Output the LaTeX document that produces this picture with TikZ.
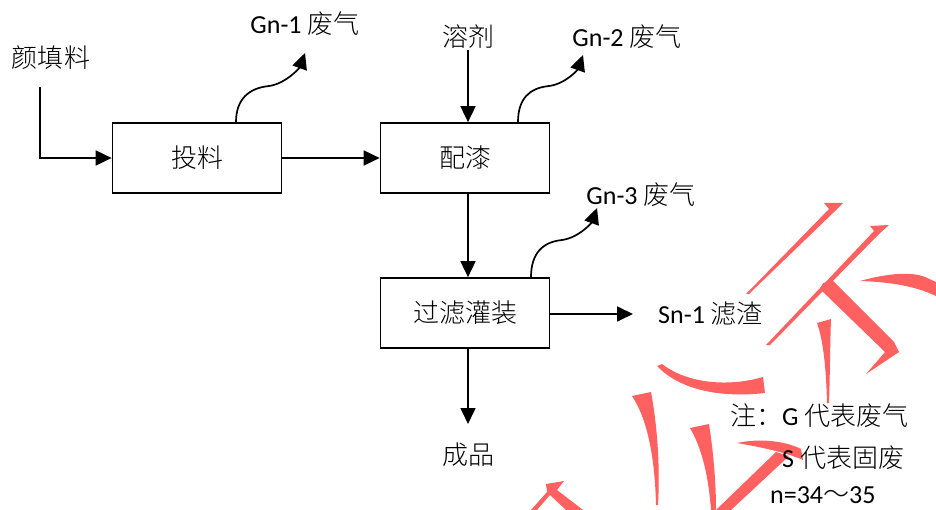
\documentclass[tikz,border=0pt]{standalone}
\usepackage{fontspec}
\setmainfont{Carlito}
\newfontfamily\cjk{Noto Sans CJK SC Light}
\usetikzlibrary{arrows.meta,calc}
\definecolor{wm}{RGB}{255,96,96}
\begin{document}
\begin{tikzpicture}[x=1pt,y=-1pt,
  every node/.style={font=\fontsize{26}{30}\selectfont},
  box/.style={draw,line width=1.7pt,minimum width=169pt,minimum height=70pt,inner sep=0pt},
  arr/.style={line width=1.7pt,-{Triangle[length=16pt,width=15pt]}},
  lbl/.style={inner sep=0pt},
  wmk/.style={fill=wm,draw=none}]
\path[use as bounding box] (0,0) rectangle (936,510);

% watermark strokes
\fill[wmk] (824,203) -- (843,203) -- (834,212) -- (749,294) -- (746,294) -- (829,209) -- cycle;
\fill[wmk] (870,226) -- (889,225) -- (879,234) -- (770,345) -- (766,345) -- (874,231) -- cycle;
\fill[wmk] (823,283) -- (833,281) -- (894,342) -- (899,352) -- (866,374) -- (885,352) -- (820,289) -- cycle;
\fill[wmk] (860,281) .. controls (885,274) and (910,271) .. (925,277) -- (936,282) -- (936,296) .. controls (915,286) and (890,282) .. (860,281) -- cycle;
\fill[wmk] (817,323) -- (831,319) .. controls (830,345) and (830,375) .. (829,403) -- (827,403) .. controls (826,365) and (823,340) .. (817,323) -- cycle;
\fill[wmk] (657,366) -- (662,364) .. controls (685,382) and (725,388) .. (763,377) -- (765,393) .. controls (720,398) and (680,390) .. (657,366) -- cycle;
\fill[wmk] (632,396) -- (651,392) .. controls (658,430) and (660,470) .. (658,505) -- (656,505) .. controls (655,460) and (648,420) .. (632,396) -- cycle;
\fill[wmk] (690,428) -- (709,424) .. controls (713,450) and (716,480) .. (716,510) -- (711,510) .. controls (708,470) and (700,445) .. (690,428) -- cycle;
\fill[wmk] (737,443) .. controls (760,438) and (785,441) .. (801,449) -- (803,460) .. controls (785,452) and (760,447) .. (737,443) -- cycle;
\fill[wmk] (776,452) -- (789,456) -- (731,510) -- (716,510) -- cycle;
\fill[wmk] (546,484) -- (564,481) -- (557,490) -- (583,510) -- (566,510) -- (550,495) -- (537,510) -- (531,510) -- (547,492) -- cycle;

% boxes
\node[box] (b1) at (197,158) {\cjk 投料};
\node[box] (b2) at (465,158) {\cjk 配漆};
\node[box] (b3) at (465,313) {\cjk 过滤灌装};

% labels
\node[lbl] (in1) at (51,58) {\cjk 颜填料};
\node[lbl] (in2) at (468,37) {\cjk 溶剂};
\node[lbl] (g1) at (305,24) {Gn-1 {\cjk 废气}};
\node[lbl] (g2) at (627,37) {Gn-2 {\cjk 废气}};
\node[lbl] (g3) at (641,195) {Gn-3 {\cjk 废气}};
\node[lbl,anchor=west] (s1) at (658,314) {Sn-1 {\cjk 滤渣}};
\node[lbl] (out) at (468,455) {\cjk 成品};
\node[lbl,anchor=west] (n1) at (730,416) {{\cjk 注：}G {\cjk 代表废气}};
\node[lbl,anchor=west] (n2) at (782,458) {S {\cjk 代表固废}};
\node[lbl,anchor=west] (n3) at (770,495) {n=34{\cjk ～}35};

% coordinates
\coordinate (in1s) at (40,87);
\coordinate (in2s) at (468,50);
\coordinate (g1s) at ($(b1.north)+(39,0)$);
\coordinate (g2s) at ($(b2.north)+(53,0)$);
\coordinate (g3s) at ($(b3.north)+(66,0)$);
\coordinate (g1e) at (305,53);
\coordinate (g2e) at (583,55);
\coordinate (g3e) at (597,208);
\coordinate (s1e) at (633,314);
\coordinate (oute) at (468,424);

% connectors
\draw[arr] (in1s) |- (b1.west);
\draw[arr] (b1.east) -- (b2.west);
\draw[arr] (in2s) -- (in2s |- b2.north);
\draw[arr] ([xshift=3pt]b2.south) -- ([xshift=3pt]b3.north);
\draw[arr] (b3.east |- s1e) -- (s1e);
\draw[arr] ([xshift=3pt]b3.south) -- (oute);
\draw[arr] (g1s) .. controls +(0,-24) and +(-18,2) .. ++(32,-36) .. controls +(18,-2) and +(-5,14) .. (g1e);
\draw[arr] (g2s) .. controls +(0,-24) and +(-18,2) .. ++(30,-36) .. controls +(18,-2) and +(-5,14) .. (g2e);
\draw[arr] (g3s) .. controls +(0,-24) and +(-18,2) .. ++(30,-37) .. controls +(18,-2) and +(-5,14) .. (g3e);
\end{tikzpicture}
\end{document}
